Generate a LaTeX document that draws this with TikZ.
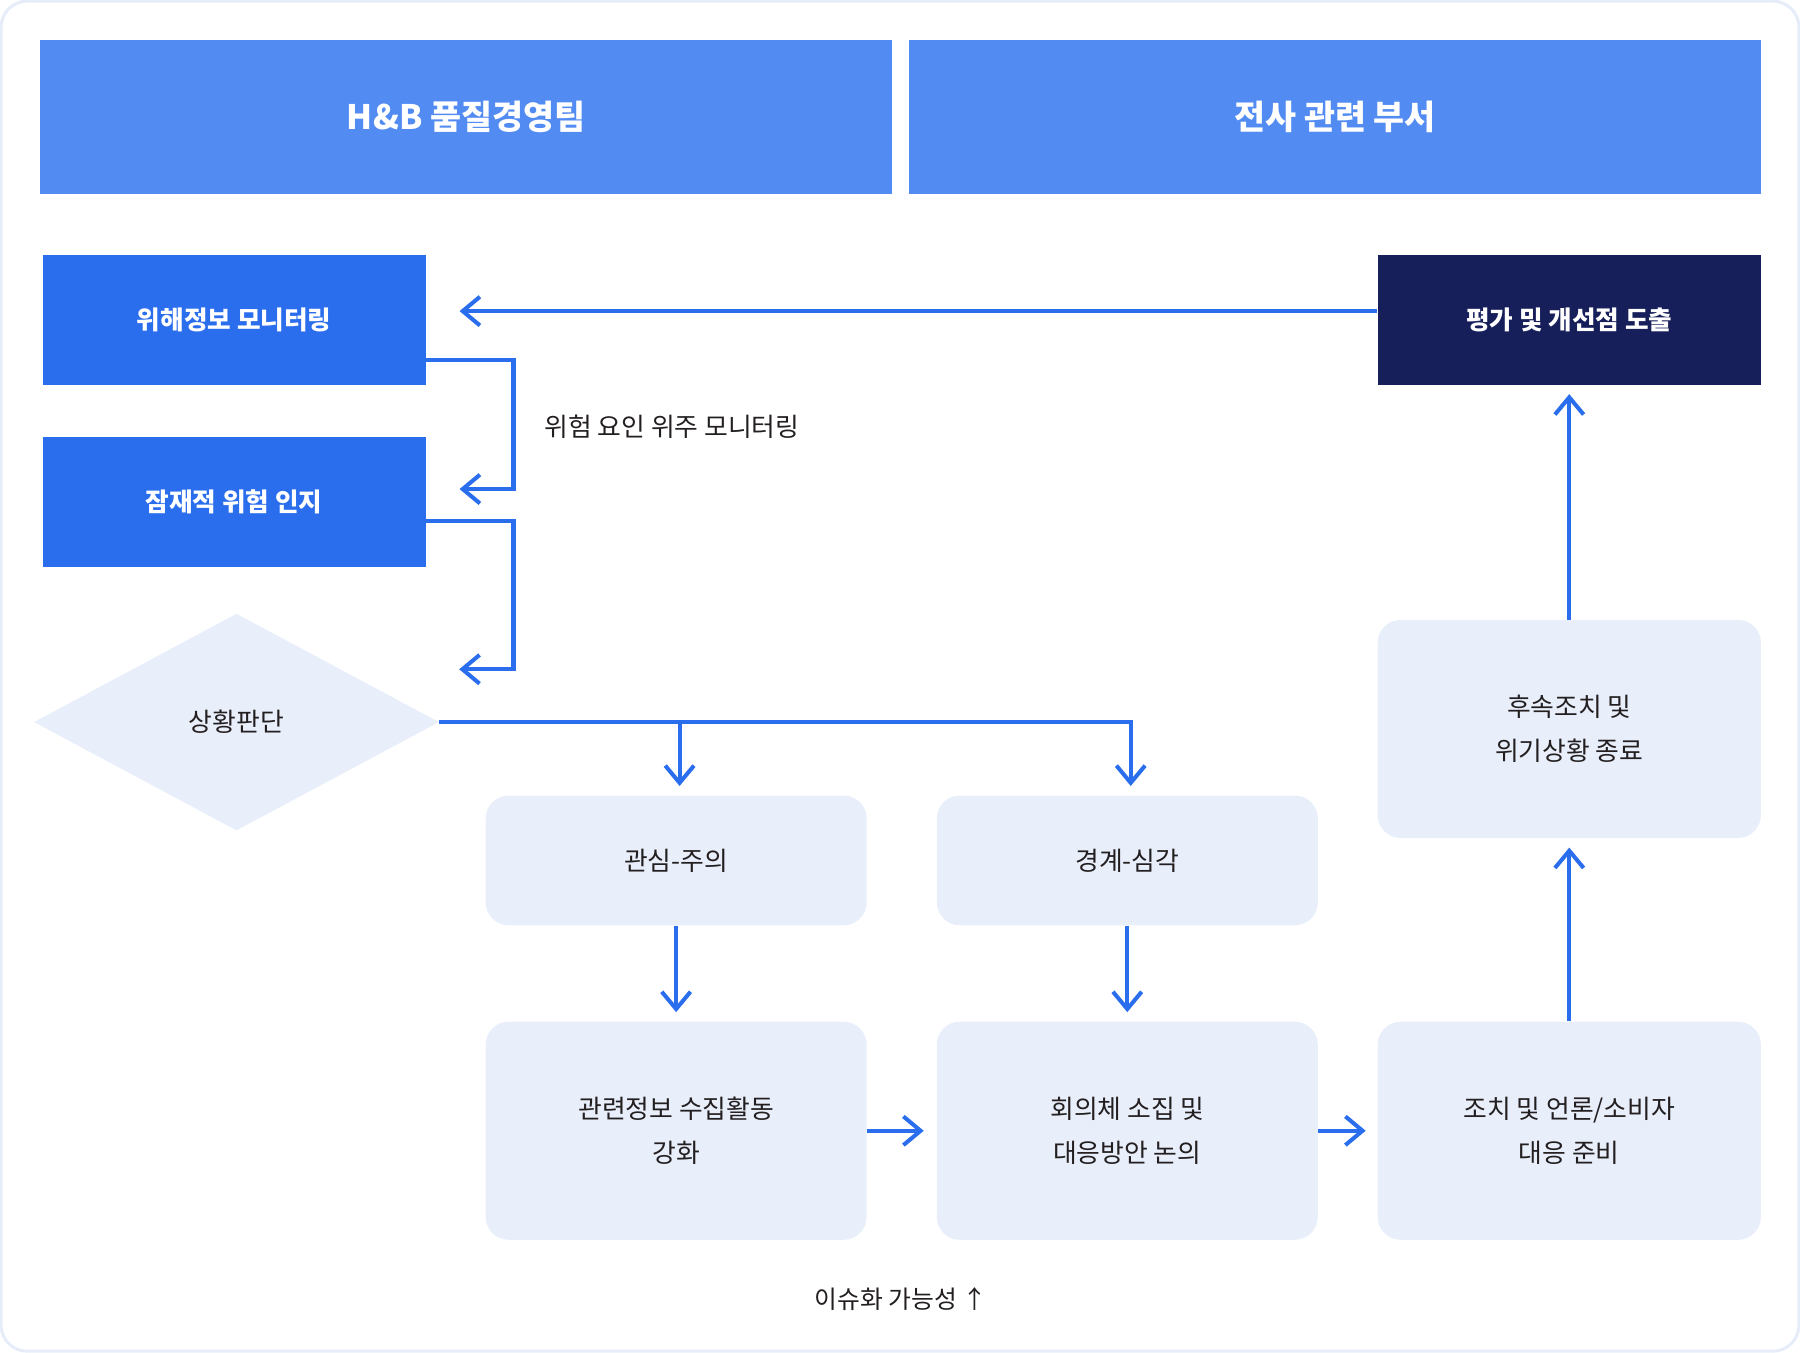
\documentclass[tikz,border=0pt]{standalone}
\usepackage{fontspec}
\setmainfont{Noto Sans CJK KR}
\usetikzlibrary{shapes.geometric,arrows.meta}
\definecolor{headblue}{HTML}{528BF2}
\definecolor{boxblue}{HTML}{2A6EEE}
\definecolor{navy}{HTML}{171F5A}
\definecolor{paleblue}{HTML}{E8EEFA}
\definecolor{framegray}{HTML}{E6EDF8}
\definecolor{ink}{HTML}{231F20}
\tikzset{
 head/.style={fill=headblue,text=white,minimum width=14.84cm,minimum height=2.68cm,font=\fontsize{16.7}{20}\selectfont\bfseries},
 team/.style={fill=boxblue,text=white,minimum width=6.68cm,minimum height=2.26cm,font=\fontsize{12.7}{15}\selectfont\bfseries},
 soft/.style={fill=paleblue,text=ink,rounded corners=0.4cm,minimum width=6.64cm,align=center,font=\fontsize{12.8}{21.6}\selectfont},
 flow/.style={draw=boxblue,line width=2pt,-{Straight Barb[length=0.3cm,width=0.5cm]},shorten >=0.16cm},
}
\begin{document}
\begin{tikzpicture}[x=0.02cm,y=-0.02cm]
 \useasboundingbox (0,0) rectangle (1568,1178);
 \draw[framegray,line width=1.5pt,rounded corners=0.45cm] (1,1) rectangle (1567,1177);
 % headers
 \node[head] (qteam) at (406,102) {H\&B 품질경영팀};
 \node[head] (dept) at (1163,102) {전사 관련 부서};
 % left column
 \node[team] (monitor) at (204,278.5) {위해정보 모니터링};
 \node[team] (risk) at (204,437.5) {잠재적 위험 인지};
 \node[diamond,fill=paleblue,text=ink,inner sep=0,minimum width=7.06cm,minimum height=3.78cm,font=\fontsize{12.8}{15}\selectfont] (judge) at (206,629) {상황판단};
 \coordinate (judge-in) at (400,583);
 \node[anchor=west,inner xsep=0,text=ink,font=\fontsize{12.8}{15}\selectfont] (focus) at (474,372) {위험 요인 위주 모니터링};
 % stages
 \node[soft,minimum height=2.26cm] (concern) at (589,749.5) {관심-주의};
 \node[soft,minimum height=2.26cm] (alert) at (982,749.5) {경계-심각};
 \node[soft,minimum height=3.8cm] (collect) at (589,985) {관련정보 수집활동\\강화};
 \node[soft,minimum height=3.8cm] (meeting) at (982,985) {회의체 소집 및\\대응방안 논의};
 \node[soft,minimum height=3.8cm,minimum width=6.68cm] (action) at (1367,985) {조치 및 언론/소비자\\대응 준비};
 \node[soft,minimum height=3.8cm,minimum width=6.68cm] (follow) at (1367,635) {후속조치 및\\위기상황 종료};
 \node[fill=navy,text=white,minimum width=6.68cm,minimum height=2.26cm,font=\fontsize{12.7}{15}\selectfont\bfseries] (eval) at (1367,278.5) {평가 및 개선점 도출};
 \node[text=ink,font=\fontsize{12.3}{15}\selectfont] (issue) at (785,1132) {이슈화 가능성 ↑};
 % connectors
 \draw[flow,shorten >=0.58cm] ([yshift=0.15cm]eval.west) -- ([yshift=0.15cm]monitor.east);
 \draw[flow,shorten >=0.58cm] ([yshift=-0.7cm]monitor.east) -- ++(76,0) |- ([yshift=0.23cm]risk.east);
 \draw[flow,shorten >=0pt] ([yshift=-0.33cm]risk.east) -- ++(76,0) |- (judge-in);
 \draw[flow] (judge.east) -| ([xshift=0.06cm]alert.north);
 \draw[flow] (judge.east) -| ([xshift=0.06cm]concern.north);
 \draw[flow] (concern.south) -- (collect.north);
 \draw[flow] (alert.south) -- (meeting.north);
 \draw[flow,shorten >=0.22cm] (collect.east) -- (meeting.west);
 \draw[flow,shorten >=0.2cm] (meeting.east) -- (action.west);
 \draw[flow] (action.north) -- (follow.south);
 \draw[flow] (follow.north) -- (eval.south);
\end{tikzpicture}
\end{document}
